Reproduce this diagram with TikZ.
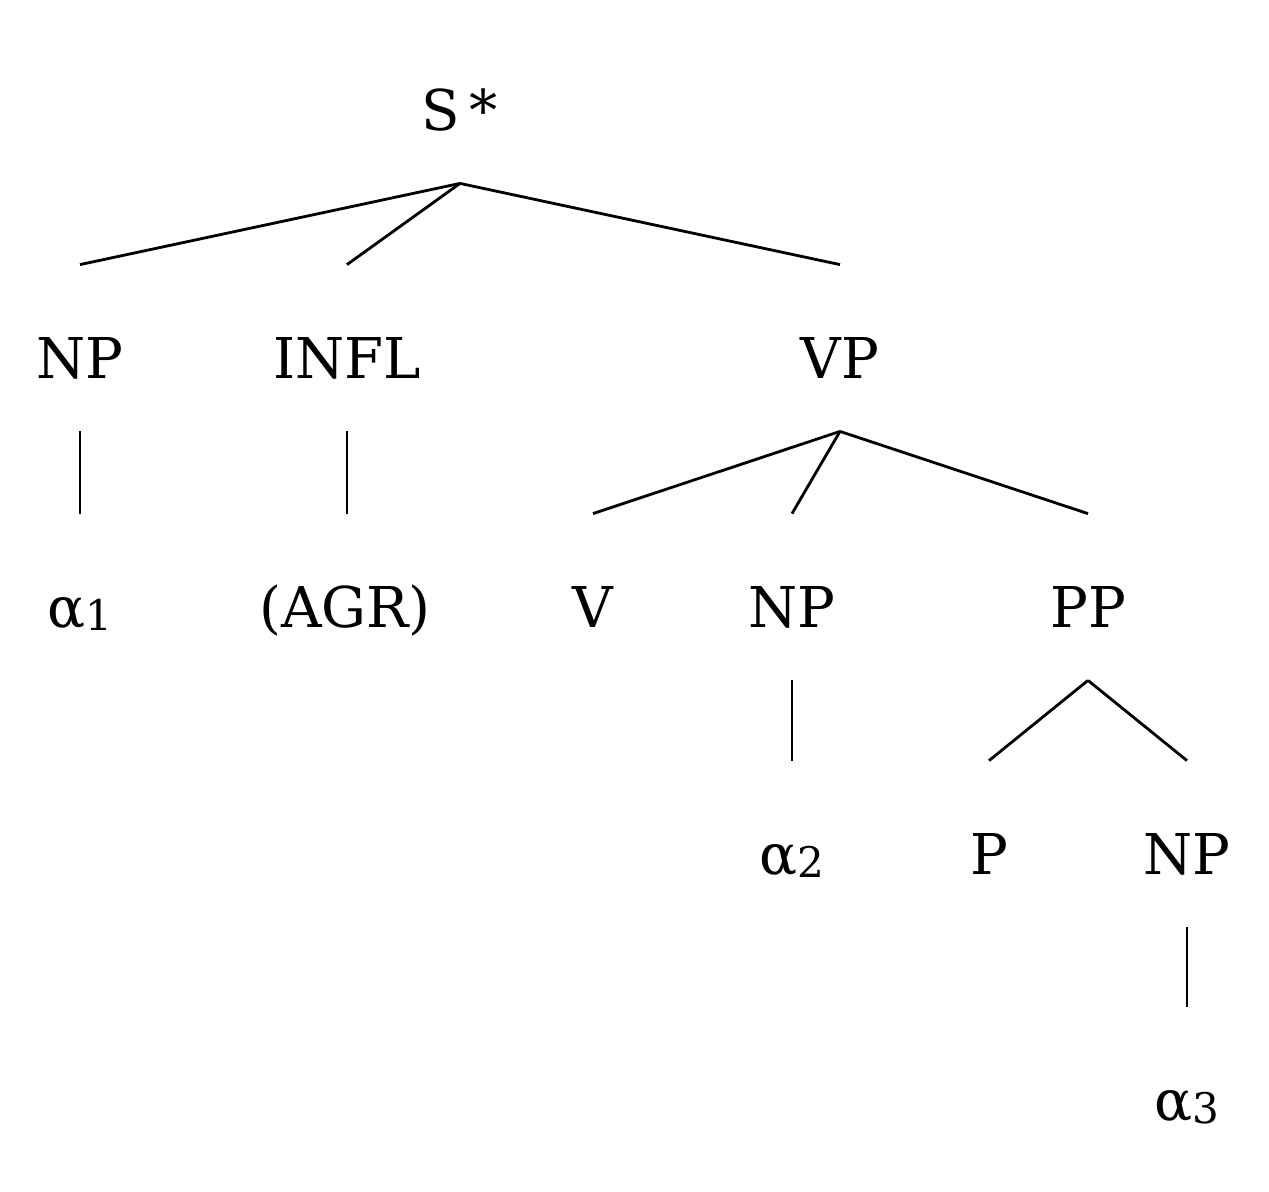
\documentclass[tikz,border=0pt]{standalone}
\usepackage{fontspec}
\setmainfont{DejaVu Serif}
\usepackage{tikz}
\newcommand{\sbs}[1]{{\fontsize{12}{14}\selectfont\raisebox{-0.08em}{#1}}}

\begin{document}
\begin{tikzpicture}[line width=0.8pt,
    every node/.style={anchor=base, inner sep=0pt, text height=1.12cm, text depth=0.52cm, font=\fontsize{16}{18}\selectfont}]
    \useasboundingbox (0,0) rectangle (12.69,-11.91);

    \node (S) at (4.60, -1.30) {S\,*};

    \node (NP) at (0.80, -3.78) {NP};
    \node (INFL) at (3.47, -3.78) {INFL};
    \node (VP) at (8.40, -3.78) {VP};

    \node (A1) at (0.80, -6.27) {α\sbs{1}};
    \node (AGR) at (3.45, -6.27) {(AGR)};
    \node (V) at (5.93, -6.27) {V};
    \node (NP2) at (7.92, -6.27) {NP};
    \node (PP) at (10.88, -6.27) {PP};

    \node (A2) at (7.92, -8.74) {α\sbs{2}};
    \node (P) at (9.89, -8.74) {P};
    \node (NP3) at (11.87, -8.74) {NP};

    \node (A3) at (11.87, -11.20) {α\sbs{3}};

    \draw (S.south) -- (NP.north);
    \draw (S.south) -- (INFL.north);
    \draw (S.south) -- (VP.north);

    \draw (NP.south) -- (A1.north);
    \draw (INFL.south) -- (INFL.south |- AGR.north);

    \draw (VP.south) -- (V.north);
    \draw (VP.south) -- (NP2.north);
    \draw (VP.south) -- (PP.north);

    \draw (NP2.south) -- (A2.north);

    \draw (PP.south) -- (P.north);
    \draw (PP.south) -- (NP3.north);

    \draw (NP3.south) -- (A3.north);
\end{tikzpicture}
\end{document}
